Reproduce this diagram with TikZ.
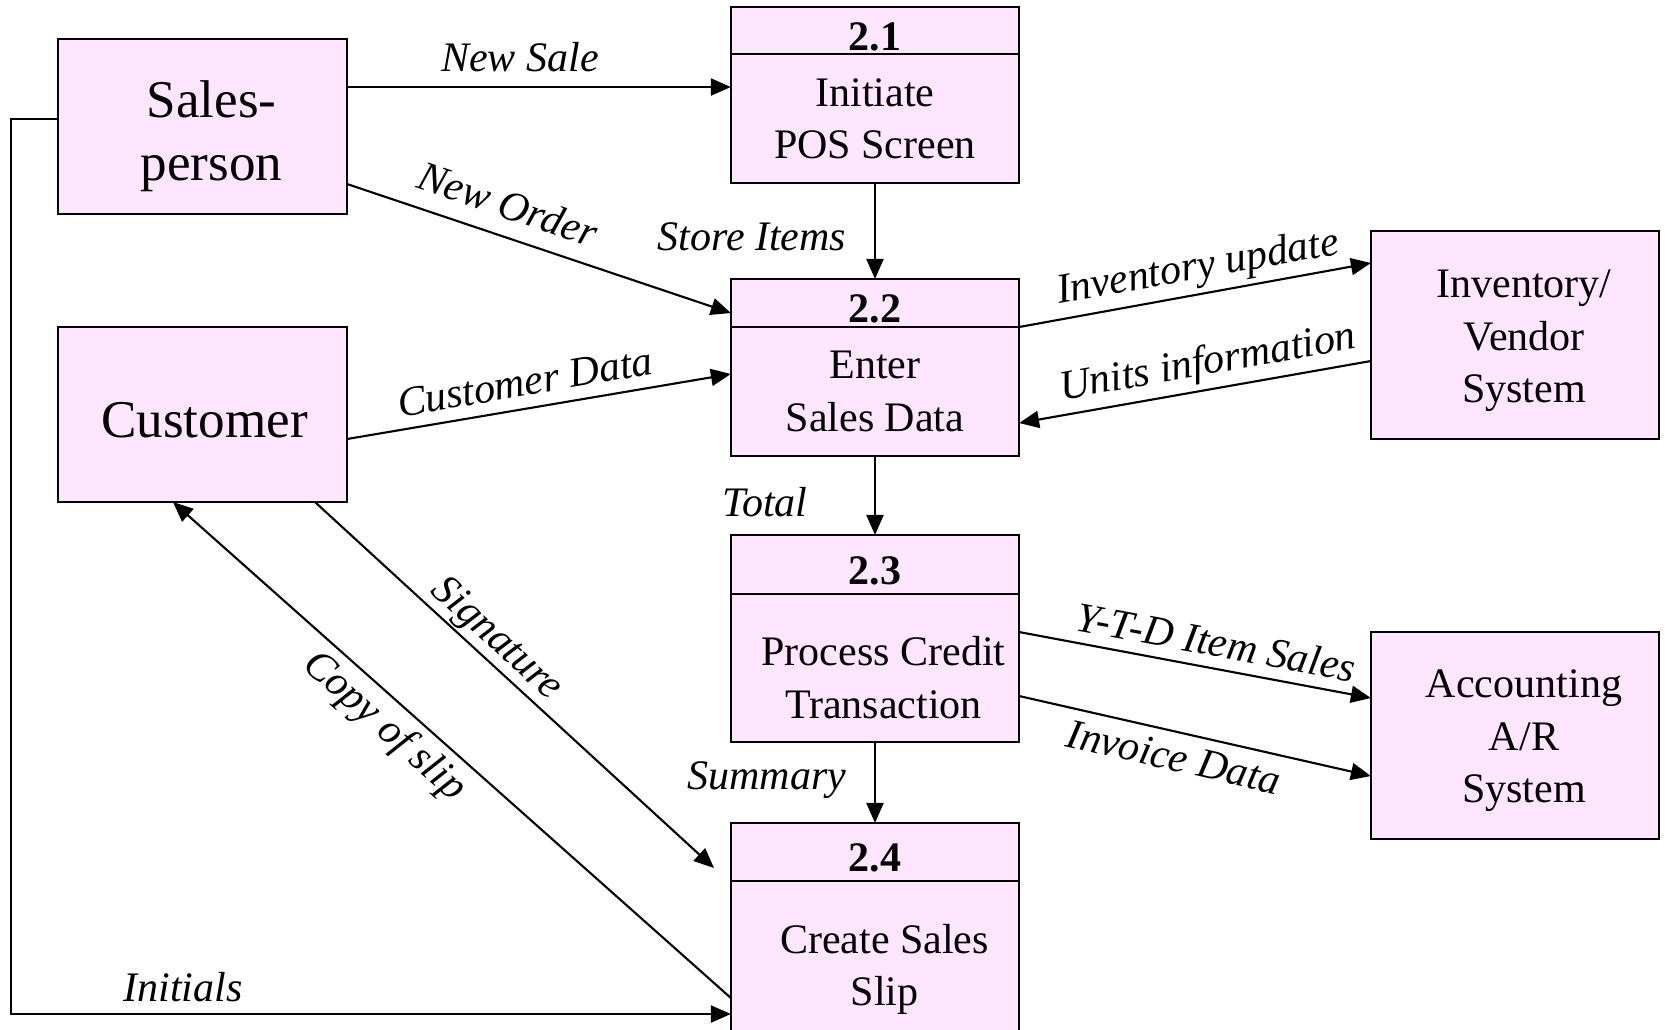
\documentclass[tikz,border=0pt]{standalone}
\usepackage{fontspec}
\setmainfont{Liberation Serif}
\usetikzlibrary{arrows.meta}
\definecolor{boxpink}{RGB}{255,230,255}

\begin{document}
\begin{tikzpicture}[x=0.01cm,y=-0.01cm]
	\tikzstyle{every node}=[font=\fontsize{11.95}{14.9}\selectfont]
	\tikzstyle{ent}=[draw=black, fill=boxpink, line width=0.6pt, inner sep=0pt, outer sep=0pt, minimum width=2.88cm]
	\tikzstyle{hdr}=[ent, font=\fontsize{11.95}{14.9}\selectfont\bfseries, text height=1.15em]
	\tikzstyle{txt}=[align=center, inner sep=0pt]
	\tikzstyle{bigtxt}=[txt, font=\fontsize{15.1}{17.9}\selectfont]
	\tikzstyle{flow}=[line width=0.6pt, -{Triangle[length=0.2cm,width=0.17cm]}]
	\tikzstyle{lbl}=[font=\fontsize{11.95}{14.3}\selectfont\itshape, inner sep=0pt]
	
	\useasboundingbox (0,0) rectangle (1665,1029);
	
	% external entities
	\node[ent, minimum width=2.89cm, minimum height=1.75cm] (sp) at (202.5,126.5) {};
	\node[bigtxt] (sptxt) at ([xshift=0.09cm,yshift=-0.1cm]sp.center) {Sales-\\person};
	\node[ent, minimum width=2.89cm, minimum height=1.75cm] (cu) at (202.5,414.5) {};
	\node[bigtxt] (cutxt) at ([xshift=0.02cm,yshift=-0.06cm]cu.center) {Customer};
	\node[ent, minimum height=2.08cm] (inv) at (1515,335) {};
	\node[txt] (invtxt) at ([xshift=0.09cm,yshift=-0.06cm]inv.center) {Inventory/\\Vendor\\System};
	\node[ent, minimum height=2.07cm] (acc) at (1515,735.5) {};
	\node[txt] (acctxt) at ([xshift=0.09cm,yshift=-0.055cm]acc.center) {Accounting\\A/R\\System};
	
	% processes
	\node[hdr, minimum height=0.47cm] (n21) at (875,30.5) {2.1};
	\node[ent, minimum height=1.29cm, anchor=north] (p21) at (n21.south) {};
	\node[txt] (p21txt) at (p21.center) {Initiate\\POS Screen};
	\node[hdr, minimum height=0.48cm] (n22) at (875,303) {2.2};
	\node[ent, minimum height=1.29cm, anchor=north] (p22) at (n22.south) {};
	\node[txt] (p22txt) at (p22.center) {Enter\\Sales Data};
	\node[hdr, minimum height=0.59cm] (n23) at (875,564.5) {2.3};
	\node[ent, minimum height=1.48cm, anchor=north] (p23) at (n23.south) {};
	\node[txt] (p23txt) at ([xshift=0.085cm,yshift=-0.095cm]p23.center) {Process Credit\\Transaction};
	\node[hdr, minimum height=0.58cm] (n24) at (875,852) {2.4};
	\node[ent, minimum height=1.71cm, anchor=north] (p24) at (n24.south) {};
	\node[txt] (p24txt) at ([xshift=0.095cm,yshift=-0.03cm]p24.center) {Create Sales\\Slip};
	
	% flows
	\draw[flow] (sp.east |- 0,87) -- (p21.west |- 0,87);
	\draw[flow] (sp.east |- 0,184) -- (n22.west |- 0,313);
	\draw[flow] (p21.south) -- (n22.north);
	\draw[flow] (cu.east |- 0,439) -- (p22.west |- 0,374);
	\draw[flow] (n22.south east) -- (inv.west |- 0,263);
	\draw[flow] (inv.west |- 0,361) -- (p22.east |- 0,423);
	\draw[flow] (p22.south) -- (n23.north);
	\draw[flow] (p23.east |- 0,632) -- (acc.west |- 0,698);
	\draw[flow] (p23.east |- 0,696) -- (acc.west |- 0,776);
	\draw[flow] (p23.south) -- (n24.north);
	\coordinate (sigend) at (714,868);
	\draw[flow] (cu.south -| 315,0) -- (sigend);
	\draw[flow] (p24.west |- 0,998) -- (cu.south -| 173,0);
	\coordinate (corner) at (11,1014);
	\draw[flow] (sp.west |- 0,119) -| (corner) -- (p24.west |- corner);
	
	% flow labels
	\node[lbl] (lsale) at (520,57) {New Sale};
	\node[lbl, rotate=-18.7] (lorder) at (508,204) {New Order};
	\node[lbl] (lstore) at (752,237) {Store Items};
	\node[lbl, rotate=9.6] (lcust) at (525,382) {Customer Data};
	\node[lbl, rotate=10.1] (lupd) at (1198,269) {Inventory update};
	\node[lbl, rotate=10] (lunits) at (1208,364) {Units information};
	\node[lbl] (ltotal) at (765,502) {Total};
	\node[lbl, rotate=-10.6] (lytd) at (1216,642) {Y-T-D Item Sales};
	\node[lbl, rotate=-12.9] (linv) at (1174,757) {Invoice Data};
	\node[lbl] (lsum) at (767,780) {Summary};
	\node[lbl, rotate=-42.4] (lsig) at (496,640) {Signature};
	\node[lbl, rotate=-41.6] (lcopy) at (384,727) {Copy of slip};
	\node[lbl] (linit) at (183,987) {Initials};
	
\end{tikzpicture}
\end{document}
